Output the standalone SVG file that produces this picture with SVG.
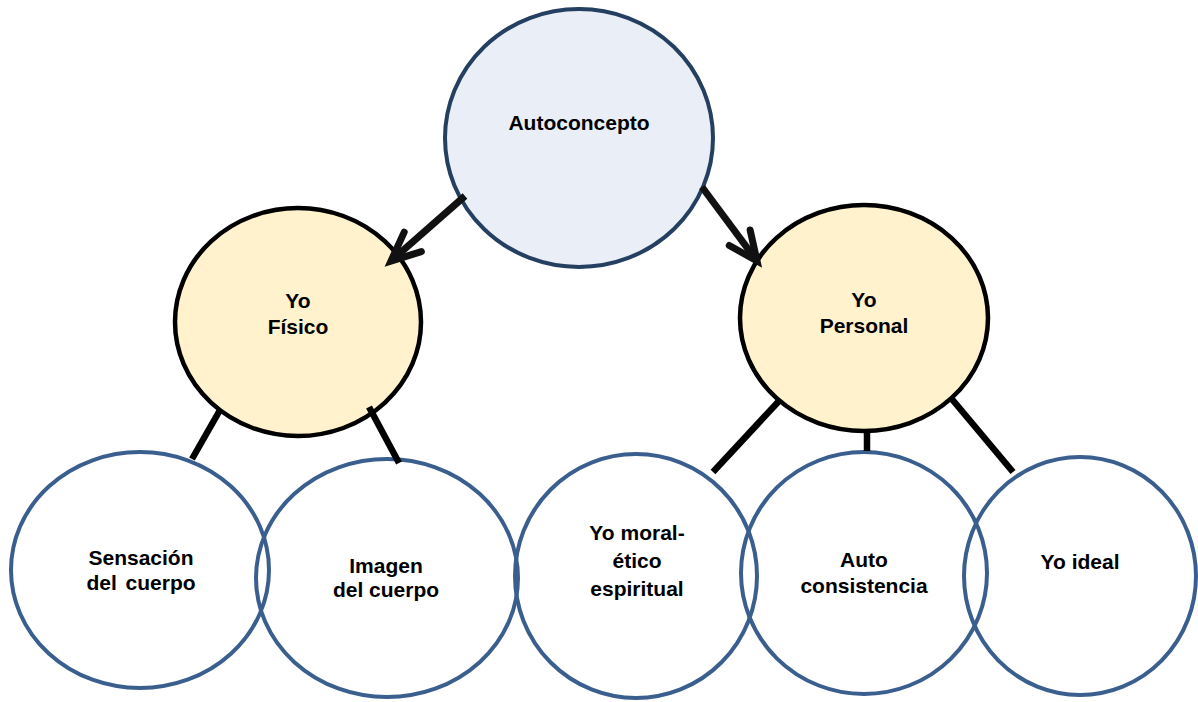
<svg xmlns="http://www.w3.org/2000/svg" width="1198" height="702" viewBox="0 0 1198 702">
<style>
.t{font-family:"Liberation Sans",Arial,sans-serif;font-weight:bold;font-size:21px;fill:#000;text-anchor:middle}
.top{fill:#e9eef7;stroke:#243f60;stroke-width:4}
.mid{fill:#fff2cc;stroke:#000;stroke-width:4.5}
.bot{fill:none;stroke:#3a5f8f;stroke-width:4}
.c{stroke:#000;stroke-width:6.5;fill:none}
.a{stroke:#111;stroke-width:7;fill:none;marker-end:url(#arr)}
</style>
<defs>
<marker id="arr" markerUnits="userSpaceOnUse" markerWidth="60" markerHeight="60" viewBox="-40 -30 60 60" refX="0" refY="0" orient="auto" overflow="visible">
<path d="M-29,-13 L0,0 L-29,13" fill="none" stroke="#111" stroke-width="7" stroke-linecap="round" stroke-linejoin="miter"/>
</marker>
</defs>
<rect width="1198" height="702" fill="#fff"/>
<g id="autoconcepto">
<ellipse class="top" cx="579" cy="138" rx="134" ry="129"/>
<text class="t" x="579" y="130">Autoconcepto</text>
</g>
<g id="yo-fisico">
<ellipse class="mid" cx="298" cy="322" rx="123" ry="114"/>
<text class="t" x="298" y="308">Yo</text>
<text class="t" x="298" y="334">Físico</text>
</g>
<g id="yo-personal">
<ellipse class="mid" cx="864" cy="318" rx="124" ry="113"/>
<text class="t" x="864" y="307">Yo</text>
<text class="t" x="864" y="333">Personal</text>
</g>
<g id="sensacion">
<ellipse class="bot" cx="140" cy="570" rx="129" ry="118"/>
<text class="t" x="141" y="565">Sensación</text>
<text class="t" x="141" y="590" style="word-spacing:3px">del cuerpo</text>
</g>
<g id="imagen">
<ellipse class="bot" cx="387" cy="578" rx="131" ry="119"/>
<text class="t" x="386" y="573">Imagen</text>
<text class="t" x="386" y="597">del cuerpo</text>
</g>
<g id="yo-moral">
<ellipse class="bot" cx="636" cy="576" rx="121" ry="122"/>
<text class="t" x="637" y="540">Yo moral-</text>
<text class="t" x="637" y="568">ético</text>
<text class="t" x="637" y="596">espiritual</text>
</g>
<g id="auto-consistencia">
<ellipse class="bot" cx="864" cy="573" rx="123" ry="121"/>
<text class="t" x="864" y="567">Auto</text>
<text class="t" x="864" y="593">consistencia</text>
</g>
<g id="yo-ideal">
<ellipse class="bot" cx="1080" cy="576" rx="116" ry="119"/>
<text class="t" x="1080" y="569">Yo ideal</text>
</g>
<g id="connectors">
<line class="a" x1="465" y1="196" x2="391" y2="261"/>
<line class="a" x1="702" y1="187" x2="757" y2="261"/>
<line class="c" x1="220" y1="410" x2="192" y2="459"/>
<line class="c" x1="369" y1="407" x2="399" y2="463"/>
<line class="c" x1="779" y1="401" x2="713" y2="472"/>
<line class="c" x1="867" y1="431" x2="867" y2="451"/>
<line class="c" x1="951" y1="398" x2="1013" y2="472"/>
</g>
</svg>
